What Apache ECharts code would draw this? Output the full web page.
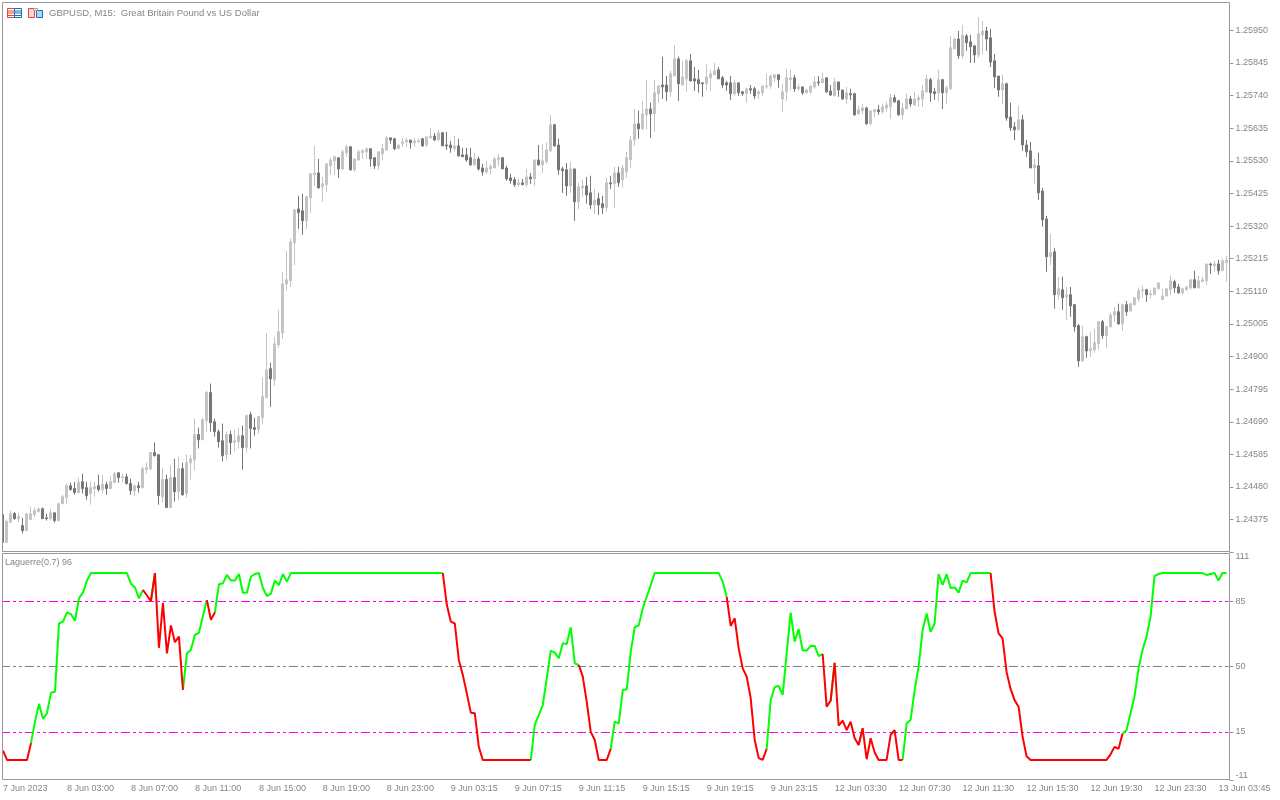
<!DOCTYPE html>
<html>
<head>
<meta charset="utf-8">
<title>GBPUSD M15</title>
<style>
    html, body { margin: 0; padding: 0; background: #fff; }
    #chart { width: 1280px; height: 800px; }
</style>
<script src="https://cdn.jsdelivr.net/npm/echarts@6/dist/echarts.min.js"></script>
</head>
<body>
<div id="chart"></div>
<script>
// prices are kept in points (1.25950 = 125950)
var opens = [
    124391,124302,124366,124395,124378,124356,124340,124375,124391,124401,
    124410,124381,124378,124397,124372,124426,124446,124484,124475,124462,
    124497,124478,124459,124475,124484,124472,124488,124475,124494,124526,
    124510,124513,124491,124468,124484,124478,124536,124539,124591,124584,
    124449,124504,124414,124510,124465,124539,124459,124558,124568,124649,
    124632,124694,124784,124690,124658,124629,124584,124649,124623,124626,
    124645,124607,124713,124671,124665,124703,124767,124861,124825,124938,
    124976,125134,125144,125266,125375,125369,125337,125411,125485,125491,
    125446,125453,125514,125530,125540,125504,125556,125575,125501,125533,
    125556,125559,125569,125540,125514,125552,125565,125604,125601,125569,
    125585,125591,125597,125588,125591,125601,125581,125604,125610,125597,
    125620,125581,125581,125569,125578,125549,125549,125540,125517,125536,
    125507,125494,125504,125507,125533,125540,125507,125475,125469,125453,
    125459,125453,125478,125472,125533,125517,125527,125562,125646,125581,
    125504,125501,125449,125504,125398,125443,125449,125427,125388,125408,
    125392,125379,125459,125456,125491,125469,125494,125533,125597,125649,
    125633,125678,125697,125681,125746,125774,125774,125752,125803,125858,
    125774,125794,125852,125794,125791,125781,125778,125797,125807,125823,
    125797,125781,125781,125746,125781,125752,125746,125762,125762,125746,
    125749,125768,125771,125797,125807,125729,125752,125791,125797,125762,
    125768,125749,125752,125768,125784,125781,125797,125755,125739,125784,
    125758,125729,125746,125746,125681,125691,125700,125649,125688,125694,
    125688,125700,125704,125733,125723,125678,125697,125729,125710,125726,
    125729,125752,125791,125752,125749,125791,125749,125762,125890,125922,
    125868,125932,125913,125900,125871,125935,125948,125926,125852,125803,
    125758,125778,125671,125639,125630,125662,125581,125562,125507,125514,
    125433,125343,125221,125237,125099,125115,125092,125099,125067,124999,
    124886,124964,124918,124922,124941,125012,124967,124996,125034,125044,
    125005,125067,125047,125067,125086,125112,125115,125099,125099,125118,
    125083,125095,125115,125141,125124,125105,125115,125121,125147,125121,
    125141,125144,125198,125192,125198,125176,125202
];
var closes = [
    124302,124369,124394,124378,124385,124340,124394,124394,124404,124410,
    124378,124378,124397,124372,124426,124449,124484,124472,124462,124494,
    124475,124452,124478,124481,124472,124488,124475,124497,124523,124510,
    124513,124491,124468,124484,124478,124539,124542,124591,124581,124452,
    124504,124414,124510,124465,124539,124455,124558,124571,124649,124632,
    124697,124784,124687,124658,124626,124581,124649,124623,124629,124645,
    124607,124710,124668,124665,124707,124771,124857,124828,124941,124980,
    125134,125147,125269,125372,125363,125337,125414,125488,125491,125443,
    125456,125520,125533,125543,125504,125559,125575,125501,125536,125559,
    125562,125569,125536,125514,125559,125569,125604,125597,125569,125581,
    125591,125597,125588,125594,125594,125578,125607,125610,125597,125620,
    125578,125578,125572,125578,125546,125543,125533,125517,125536,125504,
    125494,125507,125511,125536,125540,125504,125472,125466,125453,125459,
    125453,125478,125472,125533,125517,125530,125565,125646,125578,125501,
    125498,125449,125504,125398,125446,125449,125420,125388,125404,125388,
    125379,125459,125456,125491,125459,125507,125540,125597,125649,125633,
    125681,125697,125681,125749,125771,125768,125752,125810,125858,125778,
    125800,125852,125787,125787,125778,125778,125800,125810,125820,125794,
    125774,125774,125746,125781,125749,125746,125762,125758,125739,125752,
    125771,125771,125803,125807,125791,125752,125797,125797,125762,125768,
    125749,125758,125771,125784,125781,125794,125752,125742,125784,125758,
    125729,125749,125742,125678,125694,125700,125649,125691,125694,125688,
    125704,125710,125733,125720,125678,125700,125729,125713,125729,125733,
    125755,125794,125749,125746,125791,125749,125765,125894,125922,125868,
    125935,125910,125897,125871,125939,125948,125922,125848,125800,125758,
    125778,125668,125636,125630,125662,125581,125559,125507,125517,125427,
    125340,125221,125234,125099,125118,125089,125099,125063,124996,124886,
    124964,124918,124925,124944,125012,124967,124996,125034,125044,125005,
    125067,125044,125070,125089,125112,125115,125099,125102,125121,125137,
    125095,125118,125144,125121,125105,125118,125124,125147,125121,125144,
    125147,125198,125195,125198,125176,125208,125211
];
var lows = [
    124302,124302,124366,124375,124366,124331,124340,124375,124382,124397,
    124378,124372,124372,124365,124369,124426,124426,124468,124455,124459,
    124459,124439,124423,124449,124465,124459,124455,124472,124494,124494,
    124494,124488,124455,124452,124462,124475,124523,124533,124578,124423,
    124430,124414,124414,124433,124439,124452,124446,124504,124533,124604,
    124632,124658,124658,124642,124607,124562,124565,124584,124594,124604,
    124536,124591,124604,124645,124652,124684,124767,124738,124806,124928,
    124957,125112,125124,125195,125311,125292,125311,125363,125449,125440,
    125398,125430,125485,125485,125475,125501,125543,125498,125494,125530,
    125536,125536,125511,125504,125501,125533,125562,125585,125565,125569,
    125575,125575,125569,125575,125588,125575,125575,125601,125594,125597,
    125578,125565,125556,125559,125543,125543,125527,125514,125514,125498,
    125482,125488,125485,125507,125514,125504,125466,125456,125446,125446,
    125453,125446,125456,125449,125514,125491,125520,125559,125575,125485,
    125427,125417,125427,125337,125375,125414,125392,125375,125359,125356,
    125359,125366,125440,125379,125446,125443,125475,125507,125578,125601,
    125630,125630,125604,125623,125717,125729,125723,125736,125803,125723,
    125771,125752,125787,125755,125749,125736,125758,125755,125807,125794,
    125765,125755,125726,125739,125739,125739,125717,125746,125729,125729,
    125739,125762,125762,125784,125765,125688,125723,125758,125752,125755,
    125742,125746,125746,125762,125771,125781,125749,125739,125739,125736,
    125726,125713,125726,125675,125678,125681,125646,125646,125671,125678,
    125681,125688,125665,125717,125675,125662,125697,125704,125707,125704,
    125704,125749,125720,125726,125720,125697,125713,125758,125890,125858,
    125858,125884,125845,125845,125861,125874,125884,125832,125765,125736,
    125713,125659,125626,125597,125630,125562,125543,125507,125456,125404,
    125318,125173,125195,125054,125083,125050,125018,125028,124980,124867,
    124883,124896,124899,124912,124922,124957,124928,124993,125012,125002,
    124983,125031,125044,125063,125076,125089,125076,125086,125099,125118,
    125083,125095,125099,125105,125102,125099,125112,125115,125121,125121,
    125141,125131,125166,125173,125163,125176,125141
];
var highs = [
    124391,124375,124404,124399,124397,124381,124395,124417,124414,124414,
    124414,124394,124410,124397,124430,124455,124491,124494,124497,124510,
    124523,124497,124497,124497,124520,124520,124497,124517,124529,124526,
    124523,124523,124507,124488,124497,124546,124558,124591,124623,124584,
    124542,124520,124549,124571,124578,124558,124584,124584,124700,124671,
    124703,124790,124813,124700,124665,124684,124658,124661,124665,124671,
    124678,124713,124723,124703,124710,124832,124976,124880,124964,125050,
    125173,125240,125279,125375,125417,125424,125417,125491,125578,125536,
    125478,125523,125540,125546,125540,125565,125581,125578,125536,125565,
    125569,125572,125569,125540,125559,125585,125610,125604,125604,125581,
    125604,125604,125597,125604,125604,125604,125607,125636,125620,125630,
    125623,125623,125594,125610,125601,125572,125572,125572,125556,125543,
    125520,125530,125520,125543,125552,125540,125514,125488,125478,125472,
    125472,125504,125491,125533,125581,125585,125588,125678,125649,125601,
    125511,125523,125527,125504,125459,125469,125478,125482,125440,125427,
    125417,125475,125482,125511,125511,125517,125559,125610,125697,125691,
    125723,125791,125717,125791,125771,125865,125803,125820,125903,125865,
    125852,125858,125874,125832,125823,125781,125842,125823,125845,125832,
    125803,125787,125803,125791,125781,125755,125762,125774,125768,125758,
    125771,125810,125807,125807,125807,125778,125826,125823,125807,125778,
    125768,125762,125771,125803,125803,125813,125800,125774,125797,125784,
    125758,125768,125762,125749,125707,125713,125704,125691,125697,125710,
    125713,125720,125746,125742,125726,125717,125746,125739,125752,125742,
    125774,125807,125797,125765,125823,125794,125771,125932,125926,125948,
    125968,125939,125935,125903,125993,125980,125961,125955,125874,125803,
    125807,125781,125717,125655,125707,125678,125597,125591,125536,125556,
    125443,125353,125295,125250,125157,125157,125124,125124,125067,125005,
    124999,124967,124980,124989,125015,125018,124999,125041,125060,125070,
    125067,125079,125073,125092,125121,125128,125118,125115,125121,125137,
    125118,125121,125160,125147,125134,125121,125128,125147,125176,125160,
    125157,125198,125202,125208,125211,125215,125224
];
var laguerre = [
    5,0,0,0,0,0,0,9,20.5,30,
    22,25,36,36.5,73,74,79,78,74.5,86.5,
    89.5,96,100,100,100,100,100,100,100,100,
    100,100,94.3,92.3,86.5,91,88,85,100,60,
    84,57,72,63,66,37.5,57,59,67,68,
    77,85.5,75,79,94,94.5,99,96,96,99.5,
    89.5,89.5,98,99.5,100,92,87.7,89,96,93.5,
    99.5,95.4,100,100,100,100,100,100,100,100,
    100,100,100,100,100,100,100,100,100,100,
    100,100,100,100,100,100,100,100,100,100,
    100,100,100,100,100,100,100,100,100,100,
    100,83,74,73,53.5,45.5,35.6,25.3,25,7,
    0,0,0,0,0,0,0,0,0,0,
    0,0,0,18.7,24,29.4,43.7,58.5,57.4,54.4,
    62.4,62,71,51.7,50.8,44.6,31,15,10.7,0,
    0,0,6,20.5,19.6,37.4,37.8,58,71,72,
    81,87.3,93.6,100,100,100,100,100,100,100,
    100,100,100,100,100,100,100,100,100,100,
    95.4,87.3,71.7,75.8,59.7,49,44.6,33,10.7,1,
    0,6,32,39,39.6,34.8,57,78.8,63.3,70,
    58.5,58.5,61,61,55.6,56.7,28.5,31.7,52,18.4,
    21,16,20.5,11.6,8,17,0.4,11.6,4,0,
    0,0,13.4,16,0,0,19.6,21.4,37.4,50,
    69.5,78.4,68.6,73,99.5,93.6,99.5,92,92.3,89.5,
    96,95,100,100,100,100,100,100,79.3,67.7,
    65,47,38,32,28.5,12.5,2,0,0,0,
    0,0,0,0,0,0,0,0,0,0,
    0,0,0,0,0,0,0,3,7,6,
    14,16,25,34,49,58.8,66,76.6,98.4,99.5,
    100,100,100,100,100,100,100,100,100,100,
    100,99,99.5,100,96,100,100
];
// bars whose incoming segment is drawn red, the rest are green
var redRuns = [[1, 7], [36, 37], [39, 45], [52, 53], [111, 132], [145, 152], [182, 191],
    [206, 207], [209, 214], [216, 222], [224, 225], [248, 280]];

var priceTicks = [124375, 124480, 124585, 124690, 124795, 124900, 125005, 125110,
    125215, 125320, 125425, 125530, 125635, 125740, 125845, 125950];
var lagTicks = [-11, 15, 50, 85, 111];
var levelColors = ['#ff00ff', '#808080', '#ff00ff'];
var timeLabels = ['7 Jun 2023', '8 Jun 03:00', '8 Jun 07:00', '8 Jun 11:00', '8 Jun 15:00',
    '8 Jun 19:00', '8 Jun 23:00', '9 Jun 03:15', '9 Jun 07:15', '9 Jun 11:15', '9 Jun 15:15',
    '9 Jun 19:15', '9 Jun 23:15', '12 Jun 03:30', '12 Jun 07:30', '12 Jun 11:30',
    '12 Jun 15:30', '12 Jun 19:30', '12 Jun 23:30', '13 Jun 03:45'];
var labelEvery = 16;

var textColor = '#85858a';
var frameColor = '#97979c';
var fontName = 'Liberation Sans';

var bars = [], candles = [], greenLine = [], redLine = [];
for (var i = 0; i < opens.length; i++) {
    bars.push(String(i));
    candles.push([opens[i], closes[i], lows[i], highs[i]]);
    greenLine.push(null);
    redLine.push(null);
}
function isRed(i) {
    return redRuns.some(function (r) { return i >= r[0] && i <= r[1]; });
}
for (var j = 1; j < laguerre.length; j++) {
    var target = isRed(j) ? redLine : greenLine;
    target[j - 1] = laguerre[j - 1];
    target[j] = laguerre[j];
}

var myChart = echarts.init(document.getElementById('chart'));

function frameRect(y, h) {
    return {
        type: 'rect', z: 100, silent: true,
        shape: { x: 2.5, y: y, width: 1227, height: h },
        style: { fill: null, stroke: frameColor, lineWidth: 1 }
    };
}
function iconRect(x, y, w, h, stroke, fill) {
    return {
        type: 'rect', z: 101, silent: true,
        shape: { x: x, y: y, width: w, height: h },
        style: { fill: fill || null, stroke: stroke, lineWidth: 1 }
    };
}
function iconLine(x1, x2, y, color) {
    return {
        type: 'line', z: 101, silent: true,
        shape: { x1: x1, y1: y, x2: x2, y2: y },
        style: { stroke: color, lineWidth: 1 }
    };
}

var option = {
    animation: false,
    backgroundColor: '#ffffff',
    textStyle: { fontFamily: fontName },
    title: [
        {
            text: 'GBPUSD, M15:  Great Britain Pound vs US Dollar',
            left: 49, top: 8, padding: 0,
            textStyle: { color: textColor, fontSize: 9.5, fontWeight: 'normal', fontFamily: fontName }
        },
        {
            text: 'Laguerre(0.7) 96',
            left: 5, top: 558, padding: 0,
            textStyle: { color: textColor, fontSize: 9, fontWeight: 'normal', fontFamily: fontName }
        }
    ],
    grid: [
        { left: 0.5, width: 1228, top: 3, height: 548 },
        { left: 0.5, width: 1228, top: 552.5, height: 228 }
    ],
    xAxis: [
        { type: 'category', gridIndex: 0, data: bars, show: false },
        {
            type: 'category', gridIndex: 1, data: bars,
            axisLine: { show: false },
            axisTick: {
                length: 4, alignWithLabel: true,
                interval: function (i) { return i % labelEvery === 0; },
                lineStyle: { color: frameColor }
            },
            axisLabel: {
                color: textColor, fontSize: 9, margin: 4, align: 'left', hideOverlap: false,
                interval: function (i) { return i % labelEvery === 0; },
                formatter: function (v, i) { return timeLabels[i / labelEvery]; }
            }
        }
    ],
    yAxis: [
        {
            type: 'value', gridIndex: 0, position: 'right', offset: 1,
            min: 124274, max: 126038, scale: true,
            splitLine: { show: false },
            axisLine: { show: false },
            axisTick: { show: true, length: 4, customValues: priceTicks, lineStyle: { color: frameColor } },
            axisLabel: {
                color: textColor, fontSize: 9, margin: 6, customValues: priceTicks,
                formatter: function (v) { return (v / 100000).toFixed(5); }
            }
        },
        {
            type: 'value', gridIndex: 1, position: 'right', offset: 1,
            min: -11, max: 111,
            // level lines sit on the ticks 15, 50 and 85
            splitLine: {
                show: true, showMinLine: false, showMaxLine: false,
                lineStyle: { color: levelColors, width: 1, type: [9, 3, 3, 3, 3, 3] }
            },
            axisLine: { show: false },
            axisTick: { show: true, length: 4, customValues: lagTicks, lineStyle: { color: frameColor } },
            axisLabel: {
                color: textColor, fontSize: 9, margin: 6, customValues: lagTicks,
                verticalAlignMinLabel: 'bottom', verticalAlignMaxLabel: 'top'
            }
        }
    ],
    series: [
        {
            name: 'GBPUSD',
            type: 'candlestick',
            xAxisIndex: 0, yAxisIndex: 0,
            data: candles,
            barWidth: 3,
            clip: true,
            itemStyle: { color: '#c4c4c4', color0: '#767676', borderColor: '#c4c4c4', borderColor0: '#767676', borderWidth: 1 }
        },
        {
            name: 'Laguerre up',
            type: 'line',
            xAxisIndex: 1, yAxisIndex: 1,
            data: greenLine,
            showSymbol: false,
            lineStyle: { color: '#00ff00', width: 2 }
        },
        {
            name: 'Laguerre down',
            type: 'line',
            xAxisIndex: 1, yAxisIndex: 1,
            data: redLine,
            showSymbol: false,
            lineStyle: { color: '#ff0000', width: 2 }
        }
    ],
    graphic: [
        // first bar is cut by the panel edge
        { type: 'rect', z: 99, silent: true, shape: { x: 0, y: 0, width: 2, height: 800 }, style: { fill: '#ffffff' } },
        frameRect(2.5, 549),
        frameRect(553.5, 226),
        iconRect(7.5, 8.5, 7, 9, '#e8443a'),
        iconRect(14.5, 8.5, 7, 9, '#1a6eb5'),
        iconLine(8, 14, 11, '#e8443a'), iconLine(8, 14, 13, '#e8443a'), iconLine(8, 14, 15.5, '#e8443a'),
        iconLine(15, 21, 11, '#1a6eb5'), iconLine(15, 21, 13, '#1a6eb5'), iconLine(15, 21, 15.5, '#1a6eb5'),
        iconRect(28.5, 8.5, 6, 9, '#e8443a', '#fcd9d2'),
        iconRect(36.5, 10.5, 6, 7, '#1a6eb5', '#a9d8f5'),
        iconRect(33.5, 8.5, 4, 2, '#9a9a9a', '#ffffff')
    ]
};

myChart.setOption(option);
window.addEventListener('resize', function () {
    myChart.resize();
});
</script>
</body>
</html>
